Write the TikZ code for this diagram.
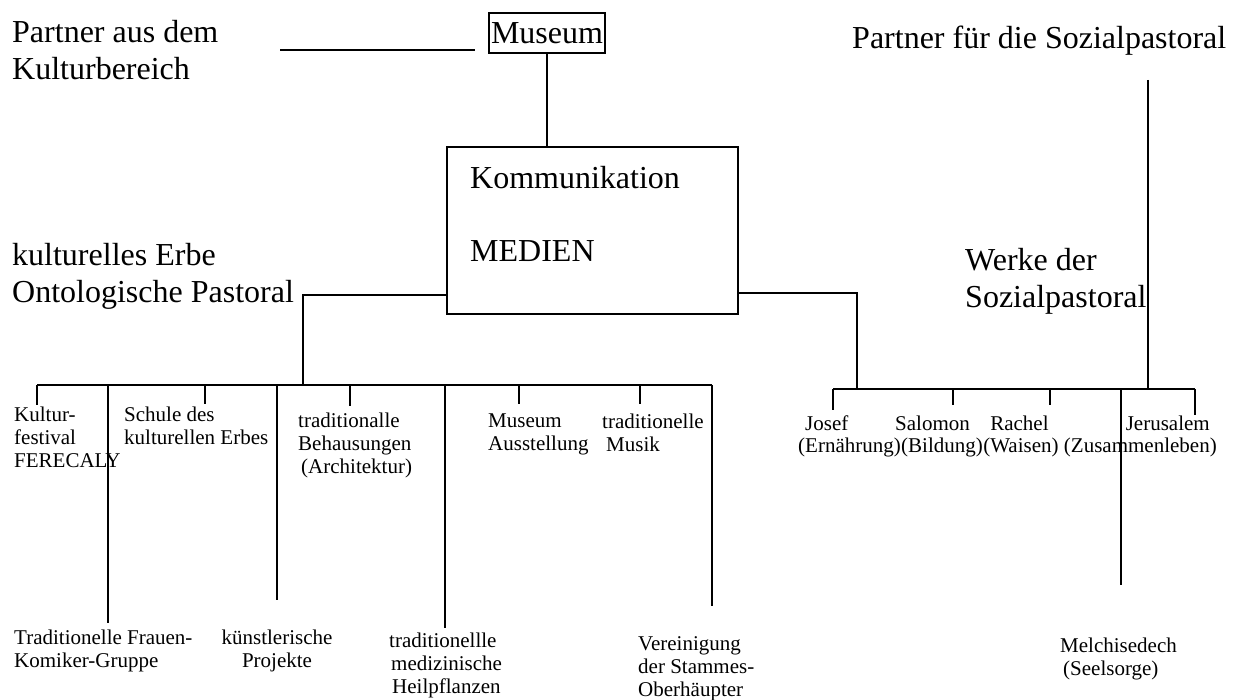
\documentclass[tikz,border=0pt]{standalone}
\usepackage{fontspec}
\setmainfont{Liberation Serif}
\begin{document}
\begin{tikzpicture}[x=1pt,y=-1pt,
  ln/.style={line width=1.5pt},
  hdr/.style={font=\fontsize{32}{37}\selectfont, inner sep=0pt, align=left},
  itm/.style={font=\fontsize{21}{23}\selectfont, inner sep=0pt, align=left},
  itmb/.style={font=\fontsize{21}{23}\selectfont, inner sep=0pt, align=left},
]
\useasboundingbox[fill=white] (0,0) rectangle (1245,700);

% headers
\node[hdr, anchor=north west] (pk) at (12,20) {Partner aus dem\\Kulturbereich};
\node[hdr, anchor=base west] (ps) at (852,49) {Partner für die Sozialpastoral};
\node[hdr, draw, ln, minimum width=116pt, minimum height=40pt] (mus) at (547,33) {Museum};
\coordinate (ml1) at (280,50);
\coordinate (ml2) at (475,50);
\draw[ln] (ml1) -- (ml2);

% central box
\node[draw, ln, minimum width=291pt, minimum height=167pt, inner sep=0pt] (box) at (592.5,230.5) {};
\node[hdr, anchor=base west] (kom) at (470,189) {Kommunikation};
\node[hdr, anchor=base west] (med) at (470,262) {MEDIEN};
\draw[ln] (mus.south) -- (mus.south |- box.north);

% side labels
\node[hdr, anchor=north west] (ke) at (12,243) {kulturelles Erbe\\Ontologische Pastoral};
\node[hdr, anchor=north west] (wk) at (965,248) {Werke der\\Sozialpastoral};

% left branch
\coordinate (lh) at (303,295);
\coordinate (lc) at (303,385);
\draw[ln] (box.west |- lh) -- (lh) -- (lc);
\coordinate (lb1) at (37,385);
\coordinate (lb2) at (712,385);
\draw[ln] (lb1) -- (lb2);
\foreach \x/\y in {37/405, 108/623, 205/404, 277/600, 350/406, 445/628, 519/404, 640/404, 712/606}
  {\draw[ln] (\x,385) -- (\x,\y);}

% right branch
\coordinate (rh) at (857,293);
\coordinate (rc) at (857,389);
\draw[ln] (box.east |- rh) -- (rh) -- (rc);
\coordinate (rt) at (1148,80);
\coordinate (rb) at (1148,389);
\draw[ln] (rt) -- (rb);
\coordinate (rb1) at (833,389);
\coordinate (rb2) at (1195,389);
\draw[ln] (rb1) -- (rb2);
\foreach \x/\y in {833/410, 953/405, 1050/405, 1121/585, 1195/415}
  {\draw[ln] (\x,389) -- (\x,\y);}

% left items (top row)
\node[itm, anchor=north west] (k1) at (14,407) {Kultur-\\festival\\FERECALY};
\node[itm, anchor=north west] (k2) at (124,407) {Schule des\\kulturellen Erbes};
\node[itm, anchor=north west] (k3) at (298,413) {traditionalle\\Behausungen\\\hspace{3pt}(Architektur)};
\node[itm, anchor=north west] (k4) at (488,414) {Museum\\Ausstellung};
\node[itm, anchor=north west] (k5) at (602,414) {traditionelle\\\hspace{4pt}Musik};

% left items (bottom row)
\node[itmb, anchor=north west] (b1) at (14,630) {Traditionelle Frauen-\\Komiker-Gruppe};
\node[itmb, anchor=north, align=center] (b2) at (277,630) {künstlerische\\Projekte};
\node[itmb, anchor=north west] (b3) at (389,633) {traditionellle\\\hspace{2pt}medizinische\\\hspace{3pt}Heilpflanzen};
\node[itmb, anchor=north west] (b4) at (638,636) {Vereinigung\\der Stammes-\\Oberhäupter};
\node[itmb, anchor=north west] (b5) at (1060,638) {Melchisedech\\\hspace{3pt}(Seelsorge)};

% right items
\node[itm, anchor=base west] (r1b) at (798,452) {(Ernährung)};
\node[itm, anchor=base west] (r2b) at (r1b.base east) {(Bildung)};
\node[itm, anchor=base west] (r3b) at (r2b.base east) {(Waisen)};
\node[itm, anchor=base west] (r4b) at ([xshift=5pt]r3b.base east) {(Zusammenleben)};
\node[itm, anchor=base west] (r1) at ([xshift=7pt,yshift=22pt]r1b.base west) {Josef};
\node[itm, anchor=base west] (r2) at ([xshift=-6pt,yshift=22pt]r2b.base west) {Salomon};
\node[itm, anchor=base west] (r3) at ([xshift=7pt,yshift=22pt]r3b.base west) {Rachel};
\node[itm, anchor=base east] (r4) at ([xshift=-7pt,yshift=22pt]r4b.base east) {Jerusalem};
\end{tikzpicture}
\end{document}
